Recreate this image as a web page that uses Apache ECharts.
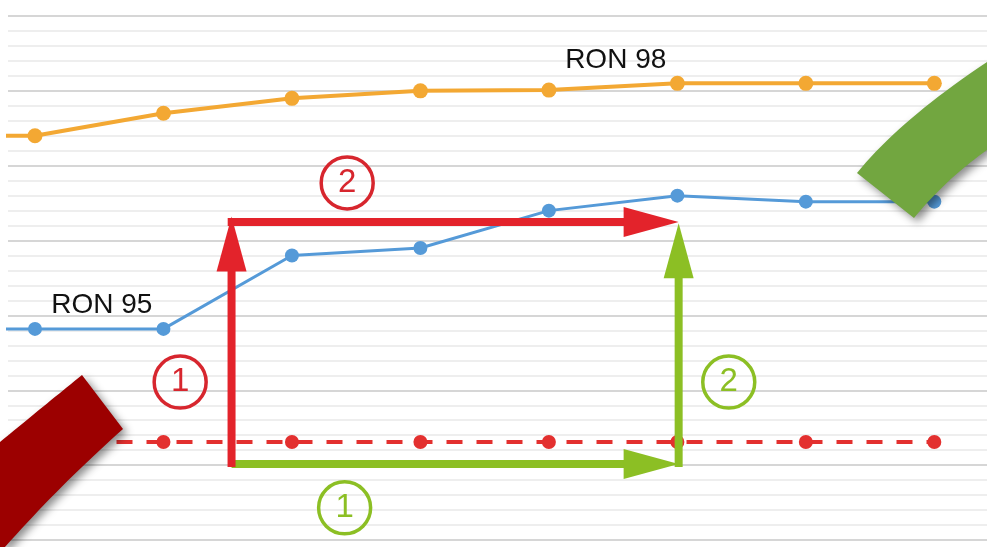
<!DOCTYPE html>
<html>
<head>
<meta charset="utf-8">
<script src="https://cdn.jsdelivr.net/npm/echarts@6/dist/echarts.min.js"></script>
<style>
html,body{margin:0;padding:0;background:#ffffff;}
#chart{width:987px;height:547px;}
</style>
</head>
<body>
<div id="chart"></div>
<script>
// x positions of the data points; -1 is an earlier point that lies outside the view
const xPositions = [-1, 0, 1, 2, 3, 4, 5, 6, 7];
const ron98 = [27.0, 27.0, 28.5, 29.5, 30.0, 30.05, 30.5, 30.5, 30.5];
const ron95 = [14.1, 14.1, 14.1, 19.0, 19.5, 22.0, 23.0, 22.6, 22.6];
const baseline = [6.55, 6.55, 6.55, 6.55, 6.55, 6.55, 6.55, 6.55, 6.55];

const seriesLabels = ['RON 98', 'RON 95'];
const seriesLabelPos = [[4.52, 32.05], [0.52, 15.7]];

// arrows: [x start, y start, x tip, y tip]
const arrows = [
  [1.53, 5.08, 5.01, 5.08],
  [5.01, 4.88, 5.01, 21.15],
  [1.53, 4.88, 1.53, 21.6],
  [1.50, 21.24, 5.01, 21.24]
];
const arrowColors = ['#8cbf24', '#8cbf24', '#e3232b', '#e3232b'];

// circled step numbers
const stepNumbers = ['1', '2', '1', '2'];
const stepPos = [[2.41, 2.15], [5.40, 10.55], [1.13, 10.55], [2.43, 23.85]];
const stepColors = ['#8cbf24', '#8cbf24', '#d7262e', '#d7262e'];

const chart = echarts.init(document.getElementById('chart'));

function pair(arr){ return arr.map((v, i) => [xPositions[i], v]); }

// decorative band outline from straight and quadratic segments
function quad(p0, c, p1, n) {
  const pts = [];
  for (let i = 1; i <= n; i++) {
    const t = i / n, a = (1 - t) * (1 - t), b = 2 * (1 - t) * t, d = t * t;
    pts.push([a * p0[0] + b * c[0] + d * p1[0], a * p0[1] + b * c[1] + d * p1[1]]);
  }
  return pts;
}
const redBand = [[82, 375], [123, 429]]
  .concat(quad([123, 429], [60, 485], [5, 547], 20))
  .concat([[0, 547], [0, 442]])
  .concat(quad([0, 442], [45, 405], [82, 375], 20));
const greenBand = [[857, 173]]
  .concat(quad([857, 173], [900, 120], [987, 62], 20))
  .concat([[987, 150]])
  .concat(quad([987, 150], [945, 180], [914, 218], 20));

const option = {
  backgroundColor: '#ffffff',
  animation: false,
  grid: { left: 8, right: 0, top: 16, bottom: 7 },
  xAxis: {
    type: 'value', min: -0.21, max: 7.41,
    show: false, splitLine: { show: false }
  },
  yAxis: {
    type: 'value', min: 0, max: 35, interval: 1,
    axisLine: { show: false }, axisTick: { show: false }, axisLabel: { show: false },
    splitLine: {
      show: true,
      lineStyle: { width: 2, color: ['#d6d6d6', '#eeeeee', '#eeeeee', '#eeeeee', '#eeeeee'] }
    }
  },
  series: [
    {
      type: 'line', data: pair(ron98), clip: true, z: 3,
      symbol: 'circle', symbolSize: 15, showAllSymbol: true,
      lineStyle: { color: '#f3a833', width: 4 },
      itemStyle: { color: '#f3a833' }
    },
    {
      type: 'line', data: pair(ron95), clip: true, z: 3,
      symbol: 'circle', symbolSize: 14, showAllSymbol: true,
      lineStyle: { color: '#559ad8', width: 3 },
      itemStyle: { color: '#559ad8' }
    },
    {
      type: 'line', data: pair(baseline), clip: true, z: 3,
      symbol: 'circle', symbolSize: 14, showAllSymbol: true,
      lineStyle: { color: '#e3302f', width: 4, type: [16, 14] },
      itemStyle: { color: '#e3302f' }
    },
    {
      type: 'custom', z: 5,
      data: arrows,
      encode: { x: [0, 2], y: [1, 3] },
      renderItem: function (params, api) {
        const p1 = api.coord([api.value(0), api.value(1)]);
        const p2 = api.coord([api.value(2), api.value(3)]);
        const color = arrowColors[params.dataIndex];
        const dx = p2[0] - p1[0], dy = p2[1] - p1[1];
        const len = Math.sqrt(dx * dx + dy * dy);
        const ux = dx / len, uy = dy / len;
        const nx = -uy, ny = ux;
        const H = 55, W = 15, S = 8;
        const bx = p2[0] - ux * H, by = p2[1] - uy * H;
        return {
          type: 'group',
          children: [
            {
              type: 'line',
              shape: { x1: p1[0], y1: p1[1], x2: bx + ux * 2, y2: by + uy * 2 },
              style: { stroke: color, lineWidth: S, lineCap: 'butt' }
            },
            {
              type: 'polygon',
              shape: { points: [[p2[0], p2[1]], [bx + nx * W, by + ny * W], [bx - nx * W, by - ny * W]] },
              style: { fill: color }
            }
          ]
        };
      }
    },
    {
      type: 'scatter', z: 6,
      data: stepPos.map((p, i) => ({
        value: p,
        itemStyle: { color: 'rgba(255,255,255,0)', borderColor: stepColors[i], borderWidth: 3.5, opacity: 1 },
        label: { color: stepColors[i] }
      })),
      symbol: 'circle', symbolSize: 52,
      itemStyle: { opacity: 1 },
      label: {
        show: true, position: 'inside',
        formatter: (p) => stepNumbers[p.dataIndex],
        fontFamily: 'Liberation Sans, Arial, sans-serif',
        fontSize: 33, fontWeight: 'normal'
      }
    },
    {
      type: 'scatter', z: 6,
      data: seriesLabelPos.map((p) => ({ value: p })),
      symbolSize: 0,
      itemStyle: { opacity: 1 },
      label: {
        show: true, position: 'inside',
        formatter: (p) => seriesLabels[p.dataIndex],
        color: '#111111',
        fontFamily: 'Liberation Sans, Arial, sans-serif',
        fontSize: 28
      }
    }
  ],
  graphic: [
    {
      type: 'polygon', z: 100,
      shape: { points: redBand },
      style: {
        fill: '#9c0000',
        shadowBlur: 8, shadowOffsetX: 4, shadowOffsetY: 4, shadowColor: 'rgba(0,0,0,0.45)'
      }
    },
    {
      type: 'polygon', z: 100,
      shape: { points: greenBand },
      style: {
        fill: '#72a640',
        shadowBlur: 8, shadowOffsetX: 4, shadowOffsetY: 4, shadowColor: 'rgba(0,0,0,0.45)'
      }
    }
  ]
};

chart.setOption(option);
</script>
</body>
</html>
